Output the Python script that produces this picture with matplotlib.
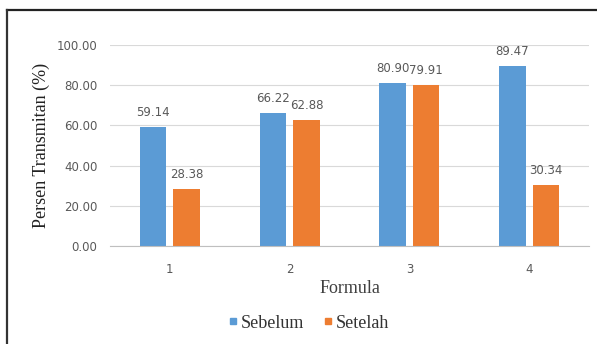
import matplotlib
matplotlib.use("Agg")
import matplotlib.pyplot as plt
from matplotlib.lines import Line2D
import numpy as np

# Data
formulas = ["1", "2", "3", "4"]
sebelum = [59.14, 66.22, 80.90, 89.47]
setelah = [28.38, 62.88, 79.91, 30.34]
series_names = ["Sebelum", "Setelah"]
yticks = [0, 20, 40, 60, 80, 100]

blue = "#5B9BD5"
orange = "#ED7D31"
label_gray = "#595959"

fig = plt.figure(figsize=(5.97, 3.44), dpi=100)
ax = fig.add_axes([110 / 597, 1 - 246 / 344, 479 / 597, 201 / 344])

x = np.arange(1, len(formulas) + 1)
w = 0.22
off = 0.14
b1 = ax.bar(x - off, sebelum, width=w, color=blue, zorder=3)
b2 = ax.bar(x + off, setelah, width=w, color=orange, zorder=3)

for bars, vals in ((b1, sebelum), (b2, setelah)):
    for rect, v in zip(bars, vals):
        ax.text(rect.get_x() + rect.get_width() / 2, v + 4.0, f"{v:.2f}",
                ha="center", va="bottom", fontsize=8.5, color=label_gray,
                family="DejaVu Sans")

ax.set_xlim(0.5, 4.5)
ax.set_ylim(0, 100)
ax.set_yticks(yticks)
ax.set_yticklabels([f"{t:.2f}" for t in yticks], fontsize=8.5, color=label_gray)
ax.set_xticks(x)
ax.set_xticklabels(formulas, fontsize=8.5, color=label_gray)
ax.tick_params(axis="y", length=0, pad=9)
ax.tick_params(axis="x", length=0, pad=12)
ax.grid(axis="y", color="#D9D9D9", linewidth=0.8, zorder=0)
for s in ("top", "right", "left"):
    ax.spines[s].set_visible(False)
ax.spines["bottom"].set_color("#BFBFBF")
ax.spines["bottom"].set_zorder(4)

ax.set_ylabel("Persen Transmitan (%)", family="Liberation Serif", fontsize=13,
              color="#222222", labelpad=5)
ax.set_xlabel("Formula", family="Liberation Serif", fontsize=13,
              color="#404040", labelpad=3)

handles = [Line2D([], [], marker="s", linestyle="none", markersize=5,
                  color=c) for c in (blue, orange)]
fig.legend(handles, series_names, loc="center", bbox_to_anchor=(308 / 597, 1 - 323 / 344),
           ncol=2, frameon=False, prop={"family": "Liberation Serif", "size": 13},
           handletextpad=0.05, columnspacing=1.0, handlelength=0.7, labelcolor="#333333")

# Frame lines on the top and left edges
fig.add_artist(Line2D([6.5 / 597, 1.0], [1 - 9.5 / 344] * 2, color="#222222",
                      linewidth=1.6, transform=fig.transFigure))
fig.add_artist(Line2D([6.5 / 597] * 2, [0, 1 - 9.5 / 344], color="#333333",
                      linewidth=1.6, transform=fig.transFigure))

fig.savefig("out.png", dpi=100)
